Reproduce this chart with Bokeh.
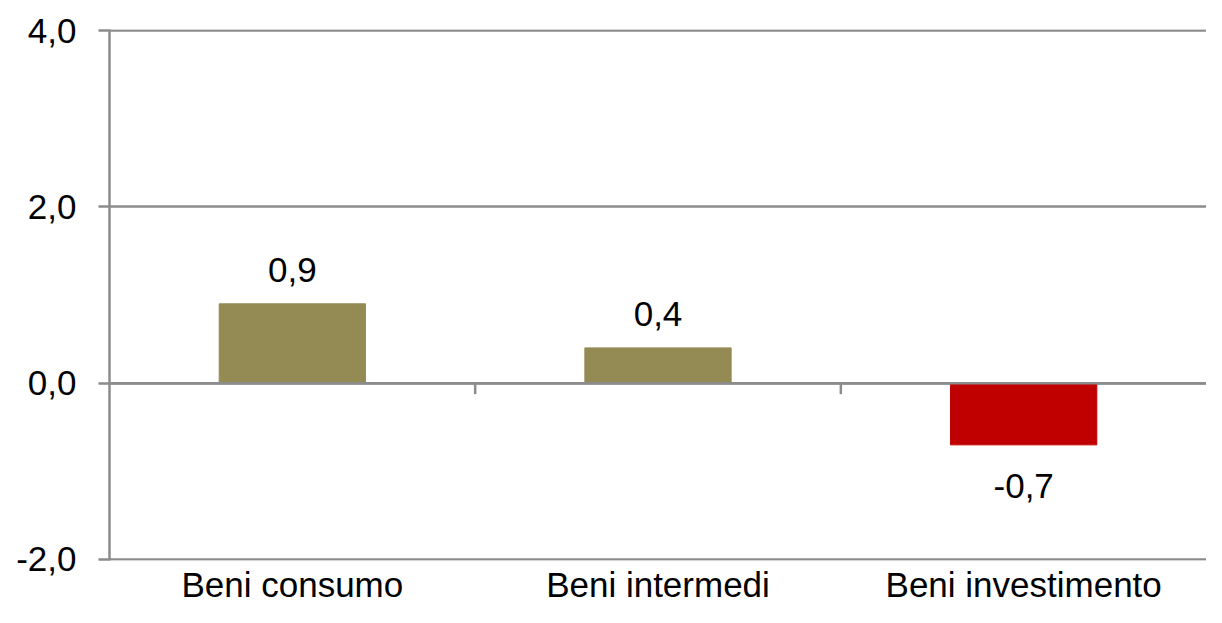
from bokeh.plotting import figure
from bokeh.models import ColumnDataSource, Range1d, FixedTicker, Span
from bokeh.core.properties import value
from bokeh.embed import file_html
from bokeh.resources import INLINE

categories = ["Beni consumo", "Beni intermedi", "Beni investimento"]
values = [0.9, 0.4, -0.7]
value_labels = ["0,9", "0,4", "-0,7"]
y_ticks = [-2, 0, 2, 4]
y_tick_labels = ["-2,0", "0,0", "2,0", "4,0"]

POS = "#948A54"
NEG = "#C00000"
GRID = "#8C8C8C"
FONT = "Liberation Sans"

W, H = 1206, 607
LEFT, RIGHT, TOP, BOTTOM = 109, 0, 29, 47

xs = [i + 0.5 for i in range(len(categories))]
colors = [POS if v >= 0 else NEG for v in values]
offsets = [-34 if v >= 0 else 41 for v in values]

src = ColumnDataSource(dict(x=xs, top=values, color=colors, lab=value_labels, off=offsets))

ystart, yend = -2.012, 4.012
p = figure(width=W, height=H, output_backend="svg", toolbar_location=None,
           x_range=Range1d(0, len(categories)), y_range=Range1d(ystart, yend),
           min_border_left=LEFT, min_border_right=RIGHT, min_border_top=TOP,
           min_border_bottom=BOTTOM)
p.outline_line_color = None
p.background_fill_color = "white"
p.border_fill_color = "white"

p.vbar(x="x", top="top", bottom=0, width=0.4, color="color", source=src)

p.text(x="x", y="top", text="lab", y_offset="off", source=src,
       text_align="center", text_baseline="middle",
       text_font=value(FONT), text_font_size="35px", text_color="black")

# zero axis line drawn over bars
p.add_layout(Span(location=0, dimension="width", line_color=GRID, line_width=2.5, level="overlay"))

# category boundary tick marks below the zero line
frame_h = H - TOP - BOTTOM
tick_len = 11 * (yend - ystart) / frame_h
bx = [float(i) for i in range(1, len(categories))]
p.segment(x0=bx, x1=bx, y0=[0] * len(bx), y1=[-tick_len] * len(bx),
          line_color=GRID, line_width=2.5)

# y axis
p.yaxis.ticker = FixedTicker(ticks=y_ticks)
p.yaxis.major_label_overrides = {t: l for t, l in zip(y_ticks, y_tick_labels)}
p.yaxis.major_label_text_font = FONT
p.yaxis.major_label_text_font_size = "35px"
p.yaxis.major_label_text_color = "black"
p.yaxis.axis_line_color = GRID
p.yaxis.axis_line_width = 2.5
p.yaxis.major_tick_line_color = GRID
p.yaxis.major_tick_line_width = 2.5
p.yaxis.major_tick_out = 11
p.yaxis.major_tick_in = 0
p.yaxis.minor_tick_line_color = None
p.yaxis.major_label_standoff = 22

p.ygrid.ticker = FixedTicker(ticks=y_ticks)
p.ygrid.grid_line_color = GRID
p.ygrid.grid_line_width = 2.5
p.xgrid.grid_line_color = None

# x axis (category labels)
p.xaxis.ticker = FixedTicker(ticks=xs)
p.xaxis.major_label_overrides = {x: c for x, c in zip(xs, categories)}
p.xaxis.major_label_text_font = FONT
p.xaxis.major_label_text_font_size = "35px"
p.xaxis.major_label_text_color = "black"
p.xaxis.axis_line_color = None
p.xaxis.major_tick_line_color = None
p.xaxis.minor_tick_line_color = None
p.xaxis.major_tick_out = 0
p.xaxis.major_label_standoff = 4

open("out.html", "w").write(file_html(p, INLINE))
